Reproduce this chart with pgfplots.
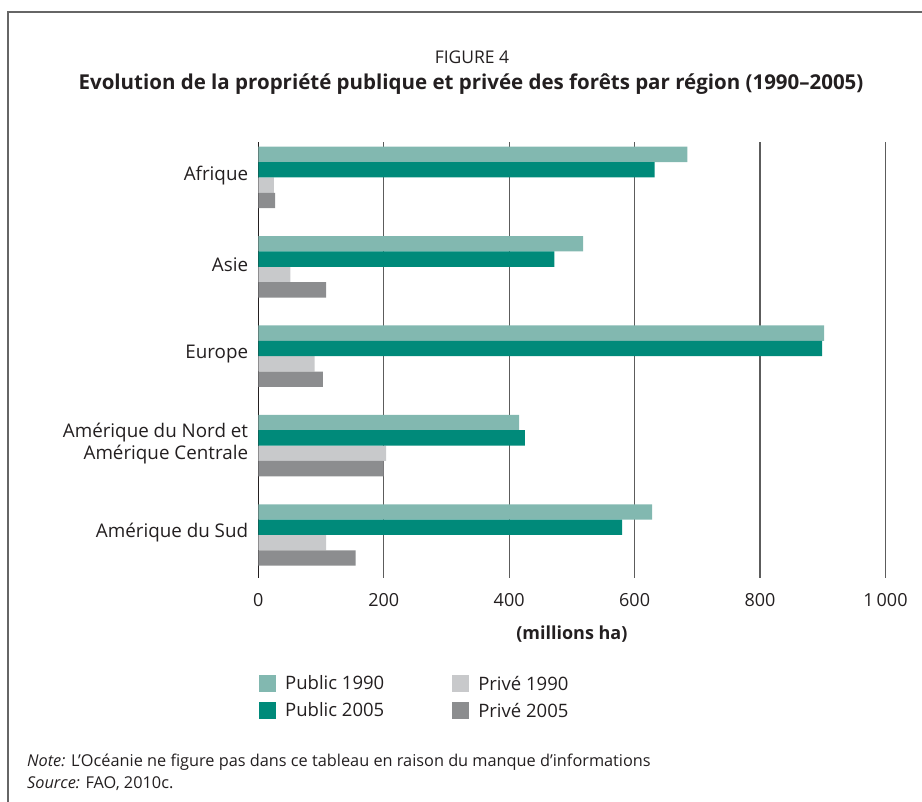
\documentclass[border=0pt]{standalone}
\usepackage{fontspec}
\setmainfont{Open Sans}
\usepackage{pgfplots}
\pgfplotsset{compat=1.18}

\definecolor{pub90}{HTML}{82B8B0}
\definecolor{pub05}{HTML}{008A7A}
\definecolor{pri90}{HTML}{C8C9CB}
\definecolor{pri05}{HTML}{8C8D8F}
\definecolor{txt}{HTML}{231F20}
\definecolor{framec}{HTML}{666666}
\definecolor{gridc}{HTML}{5C5C5C}

% forest area by region, millions ha (y: 0 = Amérique du Sud ... 4 = Afrique)
\pgfplotstableread{
y  pub90 pub05 pri90 pri05
0  628   580   108   155
1  416   425   204   200
2  902   899    90   103
3  518   472    51   108
4  684   632    25    27
}\forestdata

\newcommand{\lblfont}{\fontsize{18}{21}\selectfont}
\pgfplotsset{sqlegend/.style={legend image code/.code={\path[##1,draw=none] (0pt,-8.5pt) rectangle (17pt,8.5pt);}}}

\begin{document}
\begin{tikzpicture}[x=1pt,y=1pt]
\useasboundingbox (0,0) rectangle (922,802);
\draw[framec, line width=2pt] (8,-5) -- (8,790) -- (930,790);

\node[font=\fontsize{17.5}{20}\selectfont, text=txt] at (472,745) {FIGURE 4};
\node[font=\fontsize{20.5}{23}\selectfont\bfseries, text=txt] at (471,718)
  {Evolution de la propriété publique et privée des forêts par région (1990–2005)};

\begin{axis}[
  at={(258.3pt,224pt)}, anchor=south west,
  scale only axis, width=627.2pt, height=436pt,
  xbar, bar width=0.172,
  xmin=0, xmax=1000, ymin=-0.481, ymax=4.397,
  axis lines*=left,
  x axis line style={draw=none},
  y axis line style={txt, line width=1.3pt},
  major tick length=0pt,
  xtick={0,200,400,600,800,1000},
  xticklabels={0,200,400,600,800,1\,000},
  ytick={0,1,2,3,4},
  yticklabels={Amérique du Sud,{Amérique du Nord et\\Amérique Centrale},Europe,Asie,Afrique},
  xmajorgrids, grid style={gridc, line width=1.3pt},
  tick label style={font=\lblfont, text=txt},
  xticklabel style={anchor=center, yshift=-22pt},
  yticklabel style={anchor=east, align=right, inner sep=0pt, xshift=-10pt, yshift=2pt,
    font=\fontsize{18.8}{21.5}\selectfont},
  xlabel={\bfseries (millions ha)},
  xlabel style={at={(axis description cs:0.5,0)}, anchor=center, yshift=-56pt, font=\lblfont, text=txt},
  legend style={at={(0,0)}, anchor=north west, yshift=-97pt, xshift=0.7pt, draw=none, fill=none,
    inner sep=0pt, font=\fontsize{18.5}{21}\selectfont, text=txt, legend columns=2, row sep=10pt,
    nodes={inner sep=0pt, anchor=west},
    /tikz/every odd column/.style={column sep=9pt},
    /tikz/every even column/.style={column sep=68pt}},
  legend cell align=left,
]
\addplot[fill=pub90, draw=none, bar shift=0.258, sqlegend] table[x=pub90, y=y] {\forestdata};
\addlegendentry{Public 1990}
\addplot[fill=pri90, draw=none, bar shift=-0.086, sqlegend] table[x=pri90, y=y] {\forestdata};
\addlegendentry{Privé 1990}
\addplot[fill=pub05, draw=none, bar shift=0.086, sqlegend] table[x=pub05, y=y] {\forestdata};
\addlegendentry{Public 2005}
\addplot[fill=pri05, draw=none, bar shift=-0.258, sqlegend] table[x=pri05, y=y] {\forestdata};
\addlegendentry{Privé 2005}
\end{axis}

\node[anchor=base west, font=\fontsize{16.3}{19}\selectfont, text=txt, inner sep=0pt] at (27,35)
  {\itshape Note:\upshape{} L’Océanie ne figure pas dans ce tableau en raison du manque d’informations};
\node[anchor=base west, font=\fontsize{16.3}{19}\selectfont, text=txt, inner sep=0pt] at (27,13)
  {\itshape Source:\upshape{} FAO, 2010c.};
\end{tikzpicture}
\end{document}
